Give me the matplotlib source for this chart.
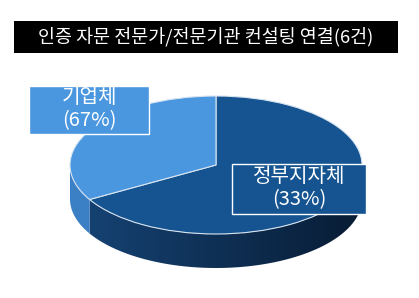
import matplotlib.pyplot as plt
import numpy as np
from matplotlib.patches import Polygon, Rectangle

plt.rcParams["font.family"] = ["Noto Sans CJK KR", "DejaVu Sans"]

TITLE = "인증 자문 전문가/전문기관 컨설팅 연결(6건)"
# slice sizes as drawn (counts out of 6), clockwise from 12 o'clock
counts = [4, 2]
labels = ["정부지자체", "기업체"]
label_pcts = ["33%", "67%"]

top_colors = ["#155490", "#4a97e0"]
side_left = [np.array([22, 68, 118]) / 255, np.array([60, 128, 198]) / 255]
side_right = [np.array([8, 28, 52]) / 255, np.array([50, 110, 175]) / 255]

W, H = 419, 298
fig = plt.figure(figsize=(W / 100, H / 100), dpi=100)

# pie geometry in pixels
cx, cy, rx, ry, depth = 216, 165, 146, 69, 34
xa, yb_top, yb_bot = 1.1, 1.15, 1.7
ax_w = 2 * xa * rx
ax_h = (yb_top + yb_bot) * ry
ax_left = cx - xa * rx
ax_top = cy - yb_top * ry
ax = fig.add_axes([ax_left / W, 1 - (ax_top + ax_h) / H, ax_w / W, ax_h / H])

wedges, _ = ax.pie(counts, startangle=90, counterclock=False, colors=top_colors,
                   wedgeprops=dict(edgecolor="#d8e4f0", linewidth=0.8))
for w in wedges:
    w.set_zorder(3)
ax.set_aspect("auto")
ax.set_xlim(-xa, xa)
ax.set_ylim(-yb_bot, yb_top)
ax.axis("off")

# front side walls with a horizontal gradient
d = depth / ry
split = 90 - 360 * counts[0] / sum(counts) + 360  # boundary angle (deg)
segments = [(split, 360, 0), (180, split, 1)]
for a0, a1, ci in segments:
    th = np.radians(np.linspace(a0, a1, 80))
    top = np.column_stack([np.cos(th), np.sin(th)])
    bot = np.column_stack([np.cos(th[::-1]), np.sin(th[::-1]) - d])
    poly = Polygon(np.vstack([top, bot]), closed=True, transform=ax.transData,
                   facecolor="none", edgecolor="none")
    ax.add_patch(poly)
    xs = np.linspace(0, 1, 200)[None, :, None]
    grad = side_left[ci] * (1 - xs) + side_right[ci] * xs
    im = ax.imshow(grad, extent=(-1, 1, -1 - d, 0), aspect="auto", zorder=1)
    im.set_clip_path(poly)

# overlay in pixel coordinates for title and label boxes
ov = fig.add_axes([0, 0, 1, 1])
ov.set_xlim(0, W)
ov.set_ylim(H, 0)
ov.axis("off")

ov.add_patch(Rectangle((14, 21), 384, 32, facecolor="black", edgecolor="none"))
ov.text(206, 37, TITLE, color="white", fontsize=13.3, ha="center", va="center")

boxes = [(232, 164, 134, 50), (29, 86, 120, 48)]
for (bx, by, bw, bh), name, pct, col in zip(boxes, labels, label_pcts, top_colors):
    ov.add_patch(Rectangle((bx, by), bw, bh, facecolor=col, edgecolor="white", linewidth=1))
    ov.text(bx + bw / 2, by + bh / 2 - 1, f"{name}\n({pct})", color="white", fontsize=14.5,
            ha="center", va="center", linespacing=1.15)

fig.savefig("out.png", dpi=100)
